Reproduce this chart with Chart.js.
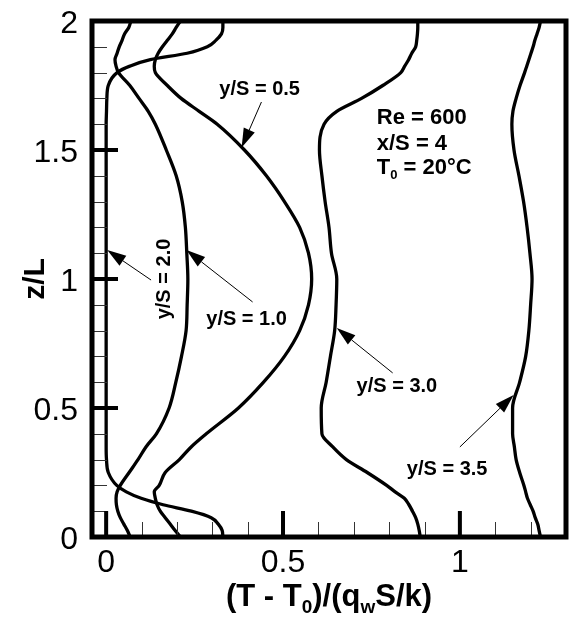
<!DOCTYPE html>
<html>
<head>
<meta charset="utf-8">
<script src="https://cdn.jsdelivr.net/npm/chart.js@4.4.1/dist/chart.umd.min.js"></script>
<style>
  html, body { margin: 0; padding: 0; background: #fff; }
</style>
</head>
<body>
<canvas id="chart" width="572" height="634"></canvas>
<script>
// z/L stations shared by every profile
const zVals = [0, 0.025, 0.05, 0.075, 0.1, 0.125, 0.15, 0.175, 0.2, 0.25, 0.3, 0.35, 0.4,
  0.5, 0.6, 0.7, 0.8, 0.9, 1.0, 1.1, 1.2, 1.3, 1.4, 1.5, 1.6, 1.65, 1.7, 1.75, 1.8,
  1.825, 1.85, 1.875, 1.9, 1.925, 1.95, 1.975, 2.0]

// (T - T0)/(qw S/k)
const tYS05 = [0.210, 0.195, 0.181, 0.167, 0.153, 0.144, 0.139, 0.136, 0.150, 0.167, 0.207, 0.241, 0.283,
  0.374, 0.445, 0.504, 0.547, 0.572, 0.581, 0.572, 0.547, 0.504, 0.453, 0.391, 0.314, 0.263, 0.212, 0.173, 0.139,
  0.136, 0.139, 0.147, 0.159, 0.173, 0.187, 0.198, 0.210]
const tYS10 = [0.068, 0.060, 0.050, 0.040, 0.033, 0.029, 0.028, 0.031, 0.040, 0.065, 0.090, 0.113, 0.142,
  0.178, 0.197, 0.213, 0.226, 0.229, 0.231, 0.228, 0.224, 0.215, 0.198, 0.170, 0.139, 0.119, 0.093, 0.067, 0.035,
  0.028, 0.025, 0.031, 0.037, 0.045, 0.052, 0.064, 0.070]
const tYS20 = [0.330, 0.328, 0.317, 0.297, 0.241, 0.161, 0.099, 0.057, 0.030, 0.006, 0.001, 0.000, 0.000,
  0.000, 0.000, 0.000, 0.000, 0.000, 0.000, 0.000, 0.000, 0.000, 0.000, 0.000, 0.000, 0.001, 0.002, 0.006, 0.031,
  0.067, 0.125, 0.229, 0.286, 0.310, 0.326, 0.330, 0.330]
const tYS30 = [0.888, 0.885, 0.881, 0.875, 0.866, 0.856, 0.843, 0.817, 0.793, 0.738, 0.679, 0.640, 0.610,
  0.608, 0.622, 0.634, 0.646, 0.650, 0.652, 0.637, 0.630, 0.619, 0.610, 0.603, 0.616, 0.652, 0.722, 0.782, 0.833,
  0.844, 0.855, 0.864, 0.875, 0.878, 0.880, 0.881, 0.881]
const tYS35 = [1.228, 1.224, 1.220, 1.213, 1.207, 1.199, 1.191, 1.186, 1.181, 1.169, 1.159, 1.154, 1.149,
  1.149, 1.169, 1.186, 1.195, 1.200, 1.204, 1.198, 1.190, 1.180, 1.167, 1.153, 1.147, 1.150, 1.159, 1.170, 1.183,
  1.189, 1.195, 1.201, 1.207, 1.212, 1.218, 1.224, 1.228]

const seriesNames = ["y/S = 0.5", "y/S = 1.0", "y/S = 2.0", "y/S = 3.0", "y/S = 3.5"]
const seriesVals = [tYS05, tYS10, tYS20, tYS30, tYS35]

// tick values
const xMajorTicks = [0, 0.5, 1]
const xMinorTicks = [0.1, 0.2, 0.3, 0.4, 0.6, 0.7, 0.8, 0.9, 1.1, 1.2]
const yMajorTicks = [0, 0.5, 1, 1.5, 2]
const yMinorTicks = [0.1, 0.2, 0.3, 0.4, 0.6, 0.7, 0.8, 0.9, 1.1, 1.2, 1.3, 1.4, 1.6, 1.7, 1.8, 1.9]

const FONT = "'Liberation Sans', Arial, Helvetica, sans-serif"

// labels with arrows (data coordinates)
const notes = [
  { text: "y/S = 0.5", at: [0.320, 1.713], from: [0.439, 1.686], to: [0.383, 1.51] },
  { text: "y/S = 1.0", at: [0.283, 0.822], from: [0.414, 0.911], to: [0.227, 1.112] },
  { text: "y/S = 2.0", at: [0.164, 1.0], rotate: true, from: [0.127, 0.996], to: [0.003, 1.112] },
  { text: "y/S = 3.0", at: [0.708, 0.562], from: [0.810, 0.636], to: [0.652, 0.810] },
  { text: "y/S = 3.5", at: [0.850, 0.240], from: [1.0, 0.349], to: [1.152, 0.550] },
]

// draws a list of [text, isSubscript] pieces starting at x
function richText(ctx, parts, x, y, size) {
  parts.forEach(function (p) {
    const s = p[1] ? Math.round(size * 0.6) : size
    ctx.font = "bold " + s + "px " + FONT
    ctx.fillText(p[0], x, p[1] ? y + size * 0.22 : y)
    x += ctx.measureText(p[0]).width
  })
}
function richWidth(ctx, parts, size) {
  let w = 0
  parts.forEach(function (p) {
    ctx.font = "bold " + (p[1] ? Math.round(size * 0.6) : size) + "px " + FONT
    w += ctx.measureText(p[0]).width
  })
  return w
}

function arrow(ctx, x1, y1, x2, y2) {
  const ang = Math.atan2(y2 - y1, x2 - x1)
  const len = 19, half = 6
  const bx = x2 - Math.cos(ang) * len, by = y2 - Math.sin(ang) * len
  ctx.lineWidth = 1
  ctx.beginPath()
  ctx.moveTo(x1, y1)
  ctx.lineTo(bx, by)
  ctx.stroke()
  ctx.beginPath()
  ctx.moveTo(x2, y2)
  ctx.lineTo(bx + Math.sin(ang) * half, by - Math.cos(ang) * half)
  ctx.lineTo(bx - Math.sin(ang) * half, by + Math.cos(ang) * half)
  ctx.closePath()
  ctx.fill()
}

const decor = {
  id: "decor",
  afterDatasetsDraw(chart) {
    const { ctx, chartArea, scales } = chart
    const { left, top, right, bottom } = chartArea
    const xs = scales.x, ys = scales.y
    ctx.save()
    ctx.fillStyle = "#000"

    // minor ticks
    ctx.lineWidth = 1
    ctx.strokeStyle = "#333"
    ctx.beginPath()
    xMinorTicks.forEach(function (v) {
      const px = Math.round(xs.getPixelForValue(v)) + 0.5
      ctx.moveTo(px, bottom)
      ctx.lineTo(px, bottom - 15)
    })
    yMinorTicks.forEach(function (v) {
      const py = Math.round(ys.getPixelForValue(v)) + 0.5
      ctx.moveTo(left, py)
      ctx.lineTo(left + 15, py)
    })
    ctx.stroke()

    // major ticks
    ctx.strokeStyle = "#000"
    ctx.lineWidth = 4
    ctx.beginPath()
    xMajorTicks.forEach(function (v) {
      const px = xs.getPixelForValue(v)
      ctx.moveTo(px, bottom)
      ctx.lineTo(px, bottom - 26)
    })
    yMajorTicks.forEach(function (v) {
      const py = ys.getPixelForValue(v)
      ctx.moveTo(left, py)
      ctx.lineTo(left + 26, py)
    })
    ctx.stroke()

    // frame
    ctx.lineWidth = 5
    ctx.strokeRect(left, top, right - left, bottom - top)

    // tick labels
    ctx.font = "32px " + FONT
    ctx.textBaseline = "alphabetic"
    ctx.textAlign = "center"
    xMajorTicks.forEach(function (v) {
      ctx.fillText(String(v), xs.getPixelForValue(v), bottom + 35)
    })
    ctx.textAlign = "right"
    yMajorTicks.forEach(function (v) {
      ctx.fillText(String(v), left - 14, ys.getPixelForValue(v) + 11.5)
    })

    // labels and arrows
    notes.forEach(function (n) {
      const tx = xs.getPixelForValue(n.at[0]), ty = ys.getPixelForValue(n.at[1])
      ctx.font = "bold 20px " + FONT
      if (n.rotate) {
        ctx.save()
        ctx.translate(tx, ty)
        ctx.rotate(-Math.PI / 2)
        ctx.textAlign = "center"
        ctx.textBaseline = "middle"
        ctx.fillText(n.text, 0, 0)
        ctx.restore()
      } else {
        ctx.textAlign = "left"
        ctx.textBaseline = "alphabetic"
        ctx.fillText(n.text, tx, ty)
      }
      arrow(ctx, xs.getPixelForValue(n.from[0]), ys.getPixelForValue(n.from[1]),
        xs.getPixelForValue(n.to[0]), ys.getPixelForValue(n.to[1]))
    })

    // case parameters
    ctx.textAlign = "left"
    ctx.textBaseline = "alphabetic"
    const px0 = xs.getPixelForValue(0.765)
    richText(ctx, [["Re = 600", false]], px0, ys.getPixelForValue(1.601), 22)
    richText(ctx, [["x/S = 4", false]], px0, ys.getPixelForValue(1.500), 22)
    richText(ctx, [["T", false], ["0", true], [" = 20\u00B0C", false]], px0, ys.getPixelForValue(1.407), 22)

    // x axis title with subscripts
    const xTitle = [["(T - T", false], ["0", true], [")/(q", false], ["w", true], ["S/k)", false]]
    const w = richWidth(ctx, xTitle, 31)
    richText(ctx, xTitle, (left + right) / 2 - w / 2, 606, 31)
    ctx.restore()
  },
}

const canvasRef = document.getElementById("chart")
const myChart = new Chart(canvasRef, {
  type: "line",
  data: {
    datasets: seriesVals.map(function (vals, i) {
      return {
        label: seriesNames[i],
        data: zVals.map(function (z, k) { return { x: vals[k], y: z } }),
        borderColor: "#000",
        borderWidth: 3.3,
        pointRadius: 0,
        fill: false,
        cubicInterpolationMode: "monotone",
      }
    }),
  },
  options: {
    indexAxis: "y",
    responsive: false,
    animation: false,
    devicePixelRatio: 1,
    layout: { padding: { top: 21, right: 6, left: 0, bottom: 0 } },
    plugins: { legend: { display: false }, tooltip: { enabled: false } },
    scales: {
      x: {
        type: "linear",
        position: "bottom",
        min: -0.04,
        max: 1.3,
        afterBuildTicks: function (s) { s.ticks = xMajorTicks.map(function (v) { return { value: v } }) },
        afterFit: function (s) { s.height = 97 },
        grid: { display: false, drawTicks: false },
        border: { display: false },
        ticks: { display: false },
      },
      y: {
        type: "linear",
        position: "left",
        min: 0,
        max: 2,
        afterBuildTicks: function (s) { s.ticks = yMajorTicks.map(function (v) { return { value: v } }) },
        afterFit: function (s) { s.width = 92 },
        grid: { display: false, drawTicks: false },
        border: { display: false },
        ticks: { display: false },
        title: {
          display: true,
          text: "z/L",
          color: "#000",
          font: { family: FONT, size: 30, weight: "bold" },
          padding: { top: 18, bottom: 0 },
        },
      },
    },
  },
  plugins: [decor],
})
</script>
</body>
</html>
